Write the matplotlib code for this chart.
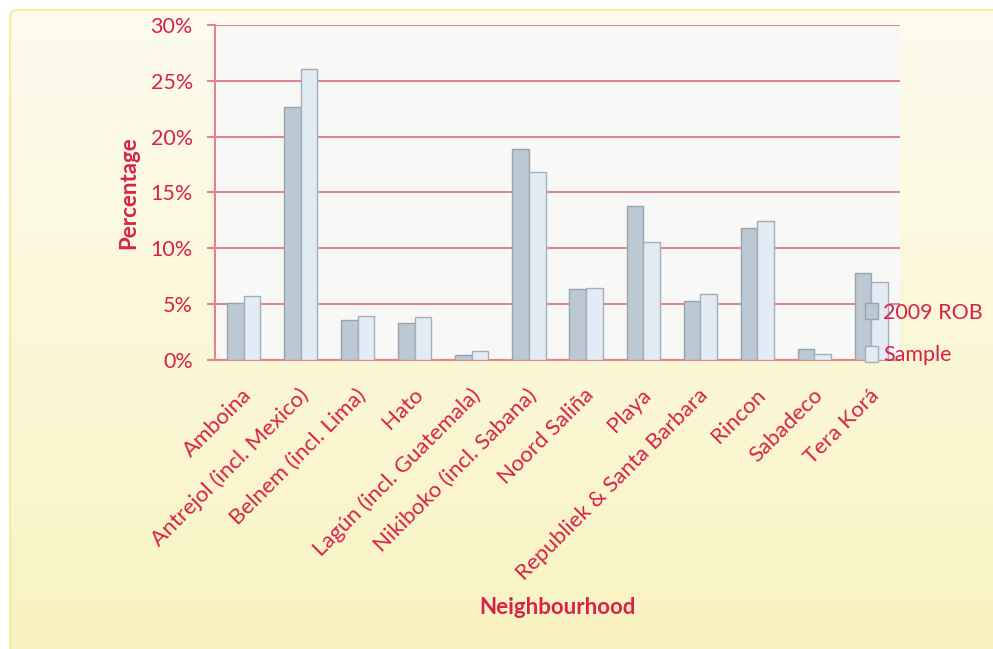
import numpy as np
import matplotlib
matplotlib.use("Agg")
import matplotlib.pyplot as plt
from matplotlib.patches import FancyBboxPatch
from matplotlib.ticker import PercentFormatter
from matplotlib.transforms import ScaledTranslation

categories = ["Amboina", "Antrejol (incl. Mexico)", "Belnem (incl. Lima)", "Hato",
              "Lagún (incl. Guatemala)", "Nikiboko (incl. Sabana)", "Noord Saliña",
              "Playa", "Republiek & Santa Barbara", "Rincon", "Sabadeco", "Tera Korá"]
rob_2009 = [5.1, 22.7, 3.6, 3.3, 0.45, 18.9, 6.35, 13.8, 5.3, 11.8, 0.95, 7.75]
sample = [5.7, 26.1, 3.9, 3.85, 0.8, 16.8, 6.45, 10.6, 5.95, 12.45, 0.55, 7.0]
series_names = ["2009 ROB", "Sample"]
yticks = [0, 5, 10, 15, 20, 25, 30]

RED = "#D8214A"
GRID = "#E08590"
plt.rcParams['font.family'] = ['Lato', 'DejaVu Sans']

W, H = 993, 649
fig = plt.figure(figsize=(W / 100, H / 100), dpi=100)
fig.patch.set_facecolor("white")

# background gradient panel
bg = fig.add_axes([0, 0, 1, 1], zorder=-10)
bg.set_xlim(0, W)
bg.set_ylim(H, 0)
bg.axis("off")
grad = np.linspace(0, 1, 256).reshape(-1, 1)
c_top = np.array([0xFD, 0xFC, 0xEE]) / 255
c_bot = np.array([0xF9, 0xF3, 0xC0]) / 255
img = c_top + (c_bot - c_top) * grad[..., None]
img = img.reshape(256, 1, 3)
im = bg.imshow(img, extent=[10, W + 20, H + 20, 10], aspect="auto", interpolation="bilinear")
panel = FancyBboxPatch((10, 10), W + 20, H + 20, boxstyle="round,pad=0,rounding_size=8",
                       facecolor="none", edgecolor="#F5E9A8", linewidth=1.5)
bg.add_patch(panel)
im.set_clip_path(panel)

ax = fig.add_axes([215 / W, 1 - 360 / H, 685 / W, 335 / H])
ax.set_facecolor("#F8F9F7")
x = np.arange(len(categories))
bw = 0.29
ax.bar(x - bw / 2, rob_2009, bw, color="#BCC8D3", edgecolor="#96A3AD", linewidth=1.0,
       label=series_names[0], zorder=3)
ax.bar(x + bw / 2, sample, bw, color="#E3ECF5", edgecolor="#A2AEB8", linewidth=1.0,
       label=series_names[1], zorder=3)

ax.set_xlim(-0.5, len(categories) - 0.5)
ax.set_ylim(0, 30)
ax.set_yticks(yticks)
ax.yaxis.set_major_formatter(PercentFormatter(decimals=0))
ax.grid(axis="y", color=GRID, linewidth=1.5, zorder=1)
ax.set_axisbelow(True)
for s in ["top", "right"]:
    ax.spines[s].set_visible(False)
for s in ["left", "bottom"]:
    ax.spines[s].set_color(GRID)
    ax.spines[s].set_linewidth(1.5)
ax.tick_params(axis="y", colors=GRID, labelcolor=RED, labelsize=15.5, length=6, width=1.5, pad=10)
ax.tick_params(axis="x", length=0, labelcolor=RED, labelsize=16, pad=23)
ax.set_xticks(x)
ax.set_xticklabels(categories, rotation=45, ha="right", va="center", rotation_mode="anchor")
offset = ScaledTranslation(5 / 100, 0, fig.dpi_scale_trans)
for lbl in ax.get_xticklabels():
    lbl.set_transform(lbl.get_transform() + offset)

ax.set_ylabel("Percentage", color=RED, fontsize=16, fontweight="bold", labelpad=8)
fig.text(557 / W, 1 - 607 / H, "Neighbourhood", color=RED, fontsize=16, fontweight="bold",
         ha="center", va="center")

leg = ax.legend(loc="upper left", bbox_to_anchor=(854 / W, 1 - 292 / H),
                bbox_transform=fig.transFigure, frameon=False, fontsize=15.5,
                handlelength=0.6, handleheight=0.75, handletextpad=0.25,
                labelspacing=1.05, borderpad=0)
for t in leg.get_texts():
    t.set_color(RED)

fig.savefig("out.png", dpi=100)
